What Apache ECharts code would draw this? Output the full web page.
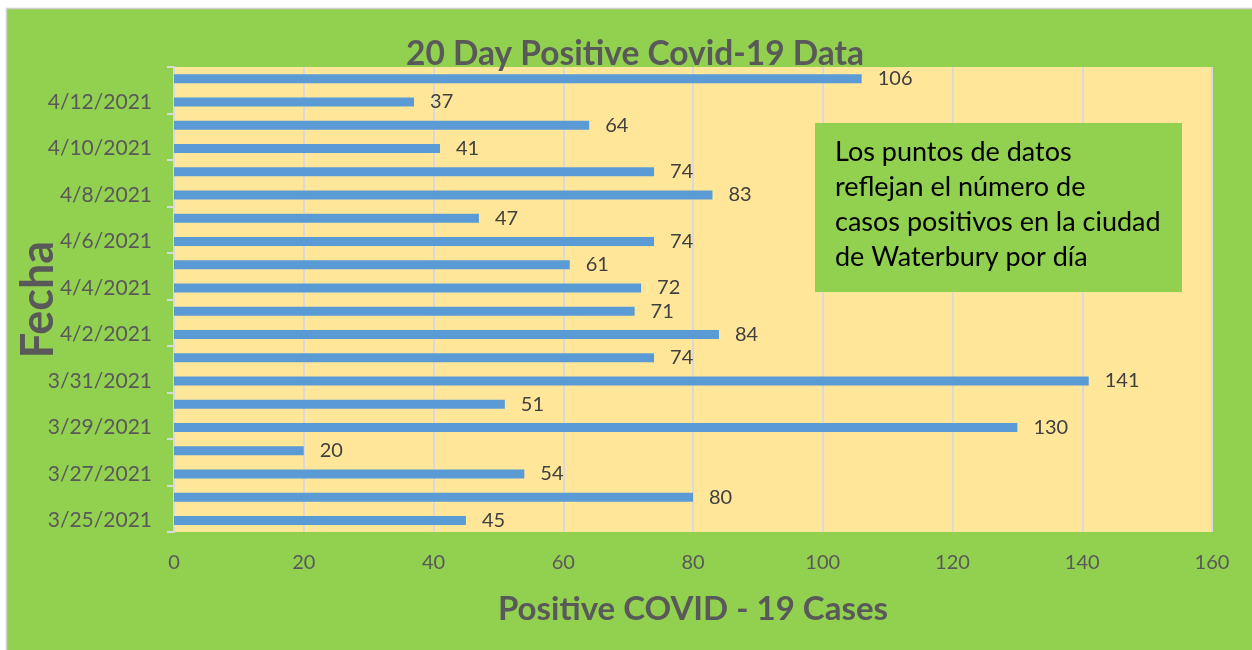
<!DOCTYPE html>
<html>
<head>
<meta charset="utf-8">
<script src="https://cdn.jsdelivr.net/npm/echarts@6/dist/echarts.min.js"></script>
<style>
html,body{margin:0;padding:0;background:#fff;}
#c{width:1252px;height:650px;}
</style>
</head>
<body>
<div id="c"></div>
<script>
const categories = ['3/25/2021','3/26/2021','3/27/2021','3/28/2021','3/29/2021','3/30/2021','3/31/2021','4/1/2021','4/2/2021','4/3/2021','4/4/2021','4/5/2021','4/6/2021','4/7/2021','4/8/2021','4/9/2021','4/10/2021','4/11/2021','4/12/2021','4/13/2021'];
const cases = [45,80,54,20,130,51,141,74,84,71,72,61,74,47,83,74,41,64,37,106];
const xTicks = [0,20,40,60,80,100,120,140,160];
const titleText = '20 Day Positive Covid-19 Data';
const xName = 'Positive COVID - 19 Cases';
const yName = 'Fecha';
const noteLines = ['Los puntos de datos','reflejan el número de','casos positivos en la ciudad','de Waterbury por día'];

const FONT = 'Lato';
const chart = echarts.init(document.getElementById('c'));
chart.setOption({
  backgroundColor: '#ffffff',
  animation: false,
  title: {
    text: titleText,
    left: 630, top: 32, textAlign: 'center',
    textStyle: {fontFamily: FONT, fontWeight: 'bold', fontSize: 33.5, color: '#595959'}
  },
  grid: {left: 174, right: 40, top: 67, bottom: 118, containLabel: false, outerBoundsMode: 'none', show: true, backgroundColor: '#FFE699', borderWidth: 0},
  xAxis: {
    type: 'value', min: xTicks[0], max: xTicks[xTicks.length-1], interval: 20,
    axisLine: {show: false}, axisTick: {show: false},
    splitLine: {show: true, lineStyle: {color: '#D9D9D9', width: 2}},
    axisLabel: {fontFamily: FONT, fontSize: 20, color: '#595959', margin: 21},
    name: xName, nameLocation: 'middle', nameGap: 61, nameMoveOverlap: false,
    nameTextStyle: {fontFamily: FONT, fontWeight: 'bold', fontSize: 33, color: '#595959'}
  },
  yAxis: {
    type: 'category', data: categories,
    axisLine: {show: true, lineStyle: {color: '#D9D9D9', width: 2}},
    axisTick: {show: true, interval: 1, length: 7, lineStyle: {color: '#D9D9D9', width: 2}},
    axisLabel: {interval: 1, fontFamily: FONT, fontSize: 21, color: '#595959', margin: 22},
    name: yName, nameLocation: 'middle', nameGap: 113, nameRotate: 90, nameMoveOverlap: false,
    nameTextStyle: {fontFamily: FONT, fontWeight: 'bold', fontSize: 45, color: '#595959'}
  },
  series: [{
    type: 'bar', data: cases, barWidth: 9,
    itemStyle: {color: '#5B9BD5'},
    label: {show: true, position: 'right', distance: 16, fontFamily: FONT, fontSize: 20, color: '#404040'}
  }],
  graphic: [
    {type: 'rect', z: -10, shape: {x: 6.5, y: 8.5, width: 1250, height: 650}, style: {fill: '#92D050', stroke: '#D0D0D0', lineWidth: 1.5}},
    {type: 'rect', z: 100, shape: {x: 815, y: 123, width: 367, height: 169}, style: {fill: '#92D050'}},
    {type: 'text', z: 101, left: 835, top: 135, style: {text: noteLines.join('\n'), font: '27px Lato', fill: '#000000', lineHeight: 35}}
  ]
});
</script>
</body>
</html>
